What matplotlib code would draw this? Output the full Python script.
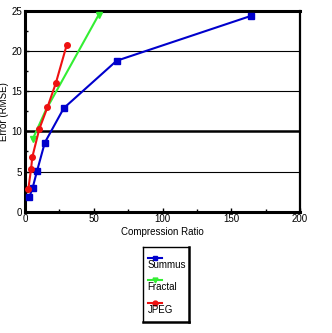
import matplotlib
matplotlib.use("Agg")
import matplotlib.pyplot as plt
from matplotlib.ticker import MultipleLocator

plt.rcParams['font.family'] = ['Liberation Sans', 'DejaVu Sans']

# data
summus_x = [3.1, 5.6, 8.8, 14.4, 28.2, 66.6, 164.5]
summus_y = [1.8, 3.0, 5.1, 8.6, 12.9, 18.8, 24.4]
fractal_x = [5.5, 15.0, 53.5]
fractal_y = [9.0, 12.6, 24.5]
jpeg_x = [2.4, 4.4, 5.3, 10.4, 16.3, 22.4, 30.4]
jpeg_y = [2.8, 5.3, 6.8, 10.3, 13.0, 16.0, 20.8]

series = [
    ("Summus", summus_x, summus_y, "#0000cc", "s", None),
    ("Fractal", fractal_x, fractal_y, "#33ee33", "v", [0, 2]),
    ("JPEG", jpeg_x, jpeg_y, "#ee1111", "o", None),
]

fig = plt.figure(figsize=(3.32, 3.33), dpi=100)
ax = fig.add_axes([25 / 332, 1 - 211.7 / 333, 275 / 332, 200.7 / 333])

for y in [5, 15, 20]:
    ax.axhline(y, color='black', linewidth=0.8, zorder=1)
ax.axhline(10, color='black', linewidth=1.8, zorder=1)

for name, xs, ys, col, mk, me in series:
    ax.plot(xs, ys, color=col, linewidth=1.5, marker=mk, markersize=4,
            markevery=me, zorder=3, clip_on=False)

ax.set_xlim(0, 200)
ax.set_ylim(0, 25)
ax.xaxis.set_major_locator(MultipleLocator(50))
ax.xaxis.set_minor_locator(MultipleLocator(25))
ax.yaxis.set_major_locator(MultipleLocator(5))
ax.yaxis.set_minor_locator(MultipleLocator(2.5))
ax.tick_params(which='major', direction='in', length=3, width=1, labelsize=7, pad=2)
ax.tick_params(which='minor', direction='in', length=2, width=1)

ax.spines['left'].set_linewidth(2.2)
ax.spines['bottom'].set_linewidth(2.2)
ax.spines['top'].set_linewidth(2.2)
ax.spines['right'].set_linewidth(1.6)

ax.set_xlabel('Compression Ratio', fontsize=7, labelpad=2)
ax.set_ylabel('Error (RMSE)', fontsize=7)
ax.yaxis.set_label_coords(-0.06, 0.5)

# legend box drawn by hand: marker line above each label
lax = fig.add_axes([143 / 332, 1 - 322 / 333, 46 / 332, 75 / 333])
lax.set_xlim(0, 1)
lax.set_ylim(0, 1)
lax.set_xticks([])
lax.set_yticks([])
for s in ['left', 'top']:
    lax.spines[s].set_linewidth(1)
for s in ['right', 'bottom']:
    lax.spines[s].set_linewidth(1.8)
for i, (name, xs, ys, col, mk, me) in enumerate(series):
    yl = 0.86 - i * 0.3
    lax.plot([0.1, 0.42], [yl, yl], color=col, linewidth=1.5)
    lax.plot([0.26], [yl], color=col, marker=mk, markersize=3.5)
    lax.text(0.1, yl - 0.03, name, fontsize=7, va='top', ha='left')

fig.savefig('out.png', dpi=100)
